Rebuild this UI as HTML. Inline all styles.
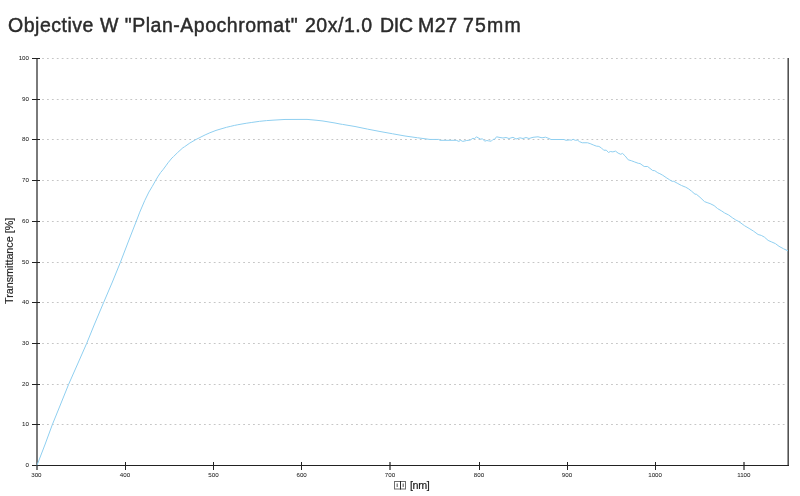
<!DOCTYPE html>
<html><head><meta charset="utf-8"><style>
html,body{margin:0;padding:0;background:#fff;width:800px;height:496px;overflow:hidden}
body{position:relative;font-family:"Liberation Sans",sans-serif}
.title,.ylab,.xlab,svg{will-change:transform}
.title{position:absolute;top:13.7px;font-size:19.5px;letter-spacing:0.52px;color:#2b2b2b;-webkit-text-stroke:0.45px #2b2b2b;white-space:nowrap;line-height:22px}
.tl{font-family:"Liberation Sans",sans-serif;font-size:6.2px;fill:#262626;stroke:#262626;stroke-width:0.04px}
.ylab{position:absolute;left:0;top:0;font-size:10.75px;color:#1e1e1e;-webkit-text-stroke:0.2px #1e1e1e;white-space:nowrap;transform-origin:0 0}
.xlab{position:absolute;top:479px;left:409.5px;font-size:10.75px;letter-spacing:-0.4px;color:#1e1e1e;-webkit-text-stroke:0.2px #1e1e1e;white-space:nowrap;line-height:12px}
.box{display:inline-block;width:4px;height:7px;border:1px solid #444;vertical-align:-1px;margin-right:0}
</style></head><body>
<div class="title" style="left:8.3px">Objective W "Plan-Apochromat"</div><div class="title" style="left:305.3px">20x/1.0</div><div class="title" style="left:380.3px;letter-spacing:-0.3px">DIC</div><div class="title" style="left:417.5px">M27</div><div class="title" style="left:462.5px;letter-spacing:1.2px">75mm</div>
<svg width="800" height="496" style="position:absolute;left:0;top:0">
<path d="M42.1 424.5h1.8M47.01 424.5h1.8M51.91 424.5h1.8M56.81 424.5h1.8M61.72 424.5h1.8M66.62 424.5h1.8M71.53 424.5h1.8M76.44 424.5h1.8M81.34 424.5h1.8M86.25 424.5h1.8M91.15 424.5h1.8M96.06 424.5h1.8M100.96 424.5h1.8M105.87 424.5h1.8M110.77 424.5h1.8M115.68 424.5h1.8M120.58 424.5h1.8M125.49 424.5h1.8M130.39 424.5h1.8M135.3 424.5h1.8M140.2 424.5h1.8M145.11 424.5h1.8M150.01 424.5h1.8M154.92 424.5h1.8M159.82 424.5h1.8M164.72 424.5h1.8M169.63 424.5h1.8M174.53 424.5h1.8M179.44 424.5h1.8M184.34 424.5h1.8M189.25 424.5h1.8M194.16 424.5h1.8M199.06 424.5h1.8M203.97 424.5h1.8M208.87 424.5h1.8M213.78 424.5h1.8M218.68 424.5h1.8M223.59 424.5h1.8M228.49 424.5h1.8M233.4 424.5h1.8M238.3 424.5h1.8M243.21 424.5h1.8M248.11 424.5h1.8M253.02 424.5h1.8M257.92 424.5h1.8M262.83 424.5h1.8M267.73 424.5h1.8M272.64 424.5h1.8M277.54 424.5h1.8M282.44 424.5h1.8M287.35 424.5h1.8M292.25 424.5h1.8M297.16 424.5h1.8M302.07 424.5h1.8M306.97 424.5h1.8M311.88 424.5h1.8M316.78 424.5h1.8M321.69 424.5h1.8M326.59 424.5h1.8M331.5 424.5h1.8M336.4 424.5h1.8M341.31 424.5h1.8M346.21 424.5h1.8M351.12 424.5h1.8M356.02 424.5h1.8M360.93 424.5h1.8M365.83 424.5h1.8M370.74 424.5h1.8M375.64 424.5h1.8M380.55 424.5h1.8M385.45 424.5h1.8M390.36 424.5h1.8M395.26 424.5h1.8M400.17 424.5h1.8M405.07 424.5h1.8M409.98 424.5h1.8M414.88 424.5h1.8M419.79 424.5h1.8M424.69 424.5h1.8M429.6 424.5h1.8M434.5 424.5h1.8M439.41 424.5h1.8M444.31 424.5h1.8M449.22 424.5h1.8M454.12 424.5h1.8M459.03 424.5h1.8M463.93 424.5h1.8M468.84 424.5h1.8M473.74 424.5h1.8M478.65 424.5h1.8M483.55 424.5h1.8M488.46 424.5h1.8M493.36 424.5h1.8M498.27 424.5h1.8M503.17 424.5h1.8M508.08 424.5h1.8M512.98 424.5h1.8M517.88 424.5h1.8M522.79 424.5h1.8M527.7 424.5h1.8M532.6 424.5h1.8M537.5 424.5h1.8M542.41 424.5h1.8M547.32 424.5h1.8M552.22 424.5h1.8M557.12 424.5h1.8M562.03 424.5h1.8M566.94 424.5h1.8M571.84 424.5h1.8M576.75 424.5h1.8M581.65 424.5h1.8M586.56 424.5h1.8M591.46 424.5h1.8M596.37 424.5h1.8M601.27 424.5h1.8M606.18 424.5h1.8M611.08 424.5h1.8M615.99 424.5h1.8M620.89 424.5h1.8M625.8 424.5h1.8M630.7 424.5h1.8M635.61 424.5h1.8M640.51 424.5h1.8M645.42 424.5h1.8M650.32 424.5h1.8M655.23 424.5h1.8M660.13 424.5h1.8M665.04 424.5h1.8M669.94 424.5h1.8M674.85 424.5h1.8M679.75 424.5h1.8M684.66 424.5h1.8M689.56 424.5h1.8M694.47 424.5h1.8M699.37 424.5h1.8M704.28 424.5h1.8M709.18 424.5h1.8M714.09 424.5h1.8M718.99 424.5h1.8M723.9 424.5h1.8M728.8 424.5h1.8M733.71 424.5h1.8M738.61 424.5h1.8M743.52 424.5h1.8M748.42 424.5h1.8M753.33 424.5h1.8M758.23 424.5h1.8M763.14 424.5h1.8M768.04 424.5h1.8M772.95 424.5h1.8M777.85 424.5h1.8M782.76 424.5h1.8M42.1 384.5h1.8M47.01 384.5h1.8M51.91 384.5h1.8M56.81 384.5h1.8M61.72 384.5h1.8M66.62 384.5h1.8M71.53 384.5h1.8M76.44 384.5h1.8M81.34 384.5h1.8M86.25 384.5h1.8M91.15 384.5h1.8M96.06 384.5h1.8M100.96 384.5h1.8M105.87 384.5h1.8M110.77 384.5h1.8M115.68 384.5h1.8M120.58 384.5h1.8M125.49 384.5h1.8M130.39 384.5h1.8M135.3 384.5h1.8M140.2 384.5h1.8M145.11 384.5h1.8M150.01 384.5h1.8M154.92 384.5h1.8M159.82 384.5h1.8M164.72 384.5h1.8M169.63 384.5h1.8M174.53 384.5h1.8M179.44 384.5h1.8M184.34 384.5h1.8M189.25 384.5h1.8M194.16 384.5h1.8M199.06 384.5h1.8M203.97 384.5h1.8M208.87 384.5h1.8M213.78 384.5h1.8M218.68 384.5h1.8M223.59 384.5h1.8M228.49 384.5h1.8M233.4 384.5h1.8M238.3 384.5h1.8M243.21 384.5h1.8M248.11 384.5h1.8M253.02 384.5h1.8M257.92 384.5h1.8M262.83 384.5h1.8M267.73 384.5h1.8M272.64 384.5h1.8M277.54 384.5h1.8M282.44 384.5h1.8M287.35 384.5h1.8M292.25 384.5h1.8M297.16 384.5h1.8M302.07 384.5h1.8M306.97 384.5h1.8M311.88 384.5h1.8M316.78 384.5h1.8M321.69 384.5h1.8M326.59 384.5h1.8M331.5 384.5h1.8M336.4 384.5h1.8M341.31 384.5h1.8M346.21 384.5h1.8M351.12 384.5h1.8M356.02 384.5h1.8M360.93 384.5h1.8M365.83 384.5h1.8M370.74 384.5h1.8M375.64 384.5h1.8M380.55 384.5h1.8M385.45 384.5h1.8M390.36 384.5h1.8M395.26 384.5h1.8M400.17 384.5h1.8M405.07 384.5h1.8M409.98 384.5h1.8M414.88 384.5h1.8M419.79 384.5h1.8M424.69 384.5h1.8M429.6 384.5h1.8M434.5 384.5h1.8M439.41 384.5h1.8M444.31 384.5h1.8M449.22 384.5h1.8M454.12 384.5h1.8M459.03 384.5h1.8M463.93 384.5h1.8M468.84 384.5h1.8M473.74 384.5h1.8M478.65 384.5h1.8M483.55 384.5h1.8M488.46 384.5h1.8M493.36 384.5h1.8M498.27 384.5h1.8M503.17 384.5h1.8M508.08 384.5h1.8M512.98 384.5h1.8M517.88 384.5h1.8M522.79 384.5h1.8M527.7 384.5h1.8M532.6 384.5h1.8M537.5 384.5h1.8M542.41 384.5h1.8M547.32 384.5h1.8M552.22 384.5h1.8M557.12 384.5h1.8M562.03 384.5h1.8M566.94 384.5h1.8M571.84 384.5h1.8M576.75 384.5h1.8M581.65 384.5h1.8M586.56 384.5h1.8M591.46 384.5h1.8M596.37 384.5h1.8M601.27 384.5h1.8M606.18 384.5h1.8M611.08 384.5h1.8M615.99 384.5h1.8M620.89 384.5h1.8M625.8 384.5h1.8M630.7 384.5h1.8M635.61 384.5h1.8M640.51 384.5h1.8M645.42 384.5h1.8M650.32 384.5h1.8M655.23 384.5h1.8M660.13 384.5h1.8M665.04 384.5h1.8M669.94 384.5h1.8M674.85 384.5h1.8M679.75 384.5h1.8M684.66 384.5h1.8M689.56 384.5h1.8M694.47 384.5h1.8M699.37 384.5h1.8M704.28 384.5h1.8M709.18 384.5h1.8M714.09 384.5h1.8M718.99 384.5h1.8M723.9 384.5h1.8M728.8 384.5h1.8M733.71 384.5h1.8M738.61 384.5h1.8M743.52 384.5h1.8M748.42 384.5h1.8M753.33 384.5h1.8M758.23 384.5h1.8M763.14 384.5h1.8M768.04 384.5h1.8M772.95 384.5h1.8M777.85 384.5h1.8M782.76 384.5h1.8M42.1 343.5h1.8M47.01 343.5h1.8M51.91 343.5h1.8M56.81 343.5h1.8M61.72 343.5h1.8M66.62 343.5h1.8M71.53 343.5h1.8M76.44 343.5h1.8M81.34 343.5h1.8M86.25 343.5h1.8M91.15 343.5h1.8M96.06 343.5h1.8M100.96 343.5h1.8M105.87 343.5h1.8M110.77 343.5h1.8M115.68 343.5h1.8M120.58 343.5h1.8M125.49 343.5h1.8M130.39 343.5h1.8M135.3 343.5h1.8M140.2 343.5h1.8M145.11 343.5h1.8M150.01 343.5h1.8M154.92 343.5h1.8M159.82 343.5h1.8M164.72 343.5h1.8M169.63 343.5h1.8M174.53 343.5h1.8M179.44 343.5h1.8M184.34 343.5h1.8M189.25 343.5h1.8M194.16 343.5h1.8M199.06 343.5h1.8M203.97 343.5h1.8M208.87 343.5h1.8M213.78 343.5h1.8M218.68 343.5h1.8M223.59 343.5h1.8M228.49 343.5h1.8M233.4 343.5h1.8M238.3 343.5h1.8M243.21 343.5h1.8M248.11 343.5h1.8M253.02 343.5h1.8M257.92 343.5h1.8M262.83 343.5h1.8M267.73 343.5h1.8M272.64 343.5h1.8M277.54 343.5h1.8M282.44 343.5h1.8M287.35 343.5h1.8M292.25 343.5h1.8M297.16 343.5h1.8M302.07 343.5h1.8M306.97 343.5h1.8M311.88 343.5h1.8M316.78 343.5h1.8M321.69 343.5h1.8M326.59 343.5h1.8M331.5 343.5h1.8M336.4 343.5h1.8M341.31 343.5h1.8M346.21 343.5h1.8M351.12 343.5h1.8M356.02 343.5h1.8M360.93 343.5h1.8M365.83 343.5h1.8M370.74 343.5h1.8M375.64 343.5h1.8M380.55 343.5h1.8M385.45 343.5h1.8M390.36 343.5h1.8M395.26 343.5h1.8M400.17 343.5h1.8M405.07 343.5h1.8M409.98 343.5h1.8M414.88 343.5h1.8M419.79 343.5h1.8M424.69 343.5h1.8M429.6 343.5h1.8M434.5 343.5h1.8M439.41 343.5h1.8M444.31 343.5h1.8M449.22 343.5h1.8M454.12 343.5h1.8M459.03 343.5h1.8M463.93 343.5h1.8M468.84 343.5h1.8M473.74 343.5h1.8M478.65 343.5h1.8M483.55 343.5h1.8M488.46 343.5h1.8M493.36 343.5h1.8M498.27 343.5h1.8M503.17 343.5h1.8M508.08 343.5h1.8M512.98 343.5h1.8M517.88 343.5h1.8M522.79 343.5h1.8M527.7 343.5h1.8M532.6 343.5h1.8M537.5 343.5h1.8M542.41 343.5h1.8M547.32 343.5h1.8M552.22 343.5h1.8M557.12 343.5h1.8M562.03 343.5h1.8M566.94 343.5h1.8M571.84 343.5h1.8M576.75 343.5h1.8M581.65 343.5h1.8M586.56 343.5h1.8M591.46 343.5h1.8M596.37 343.5h1.8M601.27 343.5h1.8M606.18 343.5h1.8M611.08 343.5h1.8M615.99 343.5h1.8M620.89 343.5h1.8M625.8 343.5h1.8M630.7 343.5h1.8M635.61 343.5h1.8M640.51 343.5h1.8M645.42 343.5h1.8M650.32 343.5h1.8M655.23 343.5h1.8M660.13 343.5h1.8M665.04 343.5h1.8M669.94 343.5h1.8M674.85 343.5h1.8M679.75 343.5h1.8M684.66 343.5h1.8M689.56 343.5h1.8M694.47 343.5h1.8M699.37 343.5h1.8M704.28 343.5h1.8M709.18 343.5h1.8M714.09 343.5h1.8M718.99 343.5h1.8M723.9 343.5h1.8M728.8 343.5h1.8M733.71 343.5h1.8M738.61 343.5h1.8M743.52 343.5h1.8M748.42 343.5h1.8M753.33 343.5h1.8M758.23 343.5h1.8M763.14 343.5h1.8M768.04 343.5h1.8M772.95 343.5h1.8M777.85 343.5h1.8M782.76 343.5h1.8M42.1 302.5h1.8M47.01 302.5h1.8M51.91 302.5h1.8M56.81 302.5h1.8M61.72 302.5h1.8M66.62 302.5h1.8M71.53 302.5h1.8M76.44 302.5h1.8M81.34 302.5h1.8M86.25 302.5h1.8M91.15 302.5h1.8M96.06 302.5h1.8M100.96 302.5h1.8M105.87 302.5h1.8M110.77 302.5h1.8M115.68 302.5h1.8M120.58 302.5h1.8M125.49 302.5h1.8M130.39 302.5h1.8M135.3 302.5h1.8M140.2 302.5h1.8M145.11 302.5h1.8M150.01 302.5h1.8M154.92 302.5h1.8M159.82 302.5h1.8M164.72 302.5h1.8M169.63 302.5h1.8M174.53 302.5h1.8M179.44 302.5h1.8M184.34 302.5h1.8M189.25 302.5h1.8M194.16 302.5h1.8M199.06 302.5h1.8M203.97 302.5h1.8M208.87 302.5h1.8M213.78 302.5h1.8M218.68 302.5h1.8M223.59 302.5h1.8M228.49 302.5h1.8M233.4 302.5h1.8M238.3 302.5h1.8M243.21 302.5h1.8M248.11 302.5h1.8M253.02 302.5h1.8M257.92 302.5h1.8M262.83 302.5h1.8M267.73 302.5h1.8M272.64 302.5h1.8M277.54 302.5h1.8M282.44 302.5h1.8M287.35 302.5h1.8M292.25 302.5h1.8M297.16 302.5h1.8M302.07 302.5h1.8M306.97 302.5h1.8M311.88 302.5h1.8M316.78 302.5h1.8M321.69 302.5h1.8M326.59 302.5h1.8M331.5 302.5h1.8M336.4 302.5h1.8M341.31 302.5h1.8M346.21 302.5h1.8M351.12 302.5h1.8M356.02 302.5h1.8M360.93 302.5h1.8M365.83 302.5h1.8M370.74 302.5h1.8M375.64 302.5h1.8M380.55 302.5h1.8M385.45 302.5h1.8M390.36 302.5h1.8M395.26 302.5h1.8M400.17 302.5h1.8M405.07 302.5h1.8M409.98 302.5h1.8M414.88 302.5h1.8M419.79 302.5h1.8M424.69 302.5h1.8M429.6 302.5h1.8M434.5 302.5h1.8M439.41 302.5h1.8M444.31 302.5h1.8M449.22 302.5h1.8M454.12 302.5h1.8M459.03 302.5h1.8M463.93 302.5h1.8M468.84 302.5h1.8M473.74 302.5h1.8M478.65 302.5h1.8M483.55 302.5h1.8M488.46 302.5h1.8M493.36 302.5h1.8M498.27 302.5h1.8M503.17 302.5h1.8M508.08 302.5h1.8M512.98 302.5h1.8M517.88 302.5h1.8M522.79 302.5h1.8M527.7 302.5h1.8M532.6 302.5h1.8M537.5 302.5h1.8M542.41 302.5h1.8M547.32 302.5h1.8M552.22 302.5h1.8M557.12 302.5h1.8M562.03 302.5h1.8M566.94 302.5h1.8M571.84 302.5h1.8M576.75 302.5h1.8M581.65 302.5h1.8M586.56 302.5h1.8M591.46 302.5h1.8M596.37 302.5h1.8M601.27 302.5h1.8M606.18 302.5h1.8M611.08 302.5h1.8M615.99 302.5h1.8M620.89 302.5h1.8M625.8 302.5h1.8M630.7 302.5h1.8M635.61 302.5h1.8M640.51 302.5h1.8M645.42 302.5h1.8M650.32 302.5h1.8M655.23 302.5h1.8M660.13 302.5h1.8M665.04 302.5h1.8M669.94 302.5h1.8M674.85 302.5h1.8M679.75 302.5h1.8M684.66 302.5h1.8M689.56 302.5h1.8M694.47 302.5h1.8M699.37 302.5h1.8M704.28 302.5h1.8M709.18 302.5h1.8M714.09 302.5h1.8M718.99 302.5h1.8M723.9 302.5h1.8M728.8 302.5h1.8M733.71 302.5h1.8M738.61 302.5h1.8M743.52 302.5h1.8M748.42 302.5h1.8M753.33 302.5h1.8M758.23 302.5h1.8M763.14 302.5h1.8M768.04 302.5h1.8M772.95 302.5h1.8M777.85 302.5h1.8M782.76 302.5h1.8M42.1 262.5h1.8M47.01 262.5h1.8M51.91 262.5h1.8M56.81 262.5h1.8M61.72 262.5h1.8M66.62 262.5h1.8M71.53 262.5h1.8M76.44 262.5h1.8M81.34 262.5h1.8M86.25 262.5h1.8M91.15 262.5h1.8M96.06 262.5h1.8M100.96 262.5h1.8M105.87 262.5h1.8M110.77 262.5h1.8M115.68 262.5h1.8M120.58 262.5h1.8M125.49 262.5h1.8M130.39 262.5h1.8M135.3 262.5h1.8M140.2 262.5h1.8M145.11 262.5h1.8M150.01 262.5h1.8M154.92 262.5h1.8M159.82 262.5h1.8M164.72 262.5h1.8M169.63 262.5h1.8M174.53 262.5h1.8M179.44 262.5h1.8M184.34 262.5h1.8M189.25 262.5h1.8M194.16 262.5h1.8M199.06 262.5h1.8M203.97 262.5h1.8M208.87 262.5h1.8M213.78 262.5h1.8M218.68 262.5h1.8M223.59 262.5h1.8M228.49 262.5h1.8M233.4 262.5h1.8M238.3 262.5h1.8M243.21 262.5h1.8M248.11 262.5h1.8M253.02 262.5h1.8M257.92 262.5h1.8M262.83 262.5h1.8M267.73 262.5h1.8M272.64 262.5h1.8M277.54 262.5h1.8M282.44 262.5h1.8M287.35 262.5h1.8M292.25 262.5h1.8M297.16 262.5h1.8M302.07 262.5h1.8M306.97 262.5h1.8M311.88 262.5h1.8M316.78 262.5h1.8M321.69 262.5h1.8M326.59 262.5h1.8M331.5 262.5h1.8M336.4 262.5h1.8M341.31 262.5h1.8M346.21 262.5h1.8M351.12 262.5h1.8M356.02 262.5h1.8M360.93 262.5h1.8M365.83 262.5h1.8M370.74 262.5h1.8M375.64 262.5h1.8M380.55 262.5h1.8M385.45 262.5h1.8M390.36 262.5h1.8M395.26 262.5h1.8M400.17 262.5h1.8M405.07 262.5h1.8M409.98 262.5h1.8M414.88 262.5h1.8M419.79 262.5h1.8M424.69 262.5h1.8M429.6 262.5h1.8M434.5 262.5h1.8M439.41 262.5h1.8M444.31 262.5h1.8M449.22 262.5h1.8M454.12 262.5h1.8M459.03 262.5h1.8M463.93 262.5h1.8M468.84 262.5h1.8M473.74 262.5h1.8M478.65 262.5h1.8M483.55 262.5h1.8M488.46 262.5h1.8M493.36 262.5h1.8M498.27 262.5h1.8M503.17 262.5h1.8M508.08 262.5h1.8M512.98 262.5h1.8M517.88 262.5h1.8M522.79 262.5h1.8M527.7 262.5h1.8M532.6 262.5h1.8M537.5 262.5h1.8M542.41 262.5h1.8M547.32 262.5h1.8M552.22 262.5h1.8M557.12 262.5h1.8M562.03 262.5h1.8M566.94 262.5h1.8M571.84 262.5h1.8M576.75 262.5h1.8M581.65 262.5h1.8M586.56 262.5h1.8M591.46 262.5h1.8M596.37 262.5h1.8M601.27 262.5h1.8M606.18 262.5h1.8M611.08 262.5h1.8M615.99 262.5h1.8M620.89 262.5h1.8M625.8 262.5h1.8M630.7 262.5h1.8M635.61 262.5h1.8M640.51 262.5h1.8M645.42 262.5h1.8M650.32 262.5h1.8M655.23 262.5h1.8M660.13 262.5h1.8M665.04 262.5h1.8M669.94 262.5h1.8M674.85 262.5h1.8M679.75 262.5h1.8M684.66 262.5h1.8M689.56 262.5h1.8M694.47 262.5h1.8M699.37 262.5h1.8M704.28 262.5h1.8M709.18 262.5h1.8M714.09 262.5h1.8M718.99 262.5h1.8M723.9 262.5h1.8M728.8 262.5h1.8M733.71 262.5h1.8M738.61 262.5h1.8M743.52 262.5h1.8M748.42 262.5h1.8M753.33 262.5h1.8M758.23 262.5h1.8M763.14 262.5h1.8M768.04 262.5h1.8M772.95 262.5h1.8M777.85 262.5h1.8M782.76 262.5h1.8M42.1 221.5h1.8M47.01 221.5h1.8M51.91 221.5h1.8M56.81 221.5h1.8M61.72 221.5h1.8M66.62 221.5h1.8M71.53 221.5h1.8M76.44 221.5h1.8M81.34 221.5h1.8M86.25 221.5h1.8M91.15 221.5h1.8M96.06 221.5h1.8M100.96 221.5h1.8M105.87 221.5h1.8M110.77 221.5h1.8M115.68 221.5h1.8M120.58 221.5h1.8M125.49 221.5h1.8M130.39 221.5h1.8M135.3 221.5h1.8M140.2 221.5h1.8M145.11 221.5h1.8M150.01 221.5h1.8M154.92 221.5h1.8M159.82 221.5h1.8M164.72 221.5h1.8M169.63 221.5h1.8M174.53 221.5h1.8M179.44 221.5h1.8M184.34 221.5h1.8M189.25 221.5h1.8M194.16 221.5h1.8M199.06 221.5h1.8M203.97 221.5h1.8M208.87 221.5h1.8M213.78 221.5h1.8M218.68 221.5h1.8M223.59 221.5h1.8M228.49 221.5h1.8M233.4 221.5h1.8M238.3 221.5h1.8M243.21 221.5h1.8M248.11 221.5h1.8M253.02 221.5h1.8M257.92 221.5h1.8M262.83 221.5h1.8M267.73 221.5h1.8M272.64 221.5h1.8M277.54 221.5h1.8M282.44 221.5h1.8M287.35 221.5h1.8M292.25 221.5h1.8M297.16 221.5h1.8M302.07 221.5h1.8M306.97 221.5h1.8M311.88 221.5h1.8M316.78 221.5h1.8M321.69 221.5h1.8M326.59 221.5h1.8M331.5 221.5h1.8M336.4 221.5h1.8M341.31 221.5h1.8M346.21 221.5h1.8M351.12 221.5h1.8M356.02 221.5h1.8M360.93 221.5h1.8M365.83 221.5h1.8M370.74 221.5h1.8M375.64 221.5h1.8M380.55 221.5h1.8M385.45 221.5h1.8M390.36 221.5h1.8M395.26 221.5h1.8M400.17 221.5h1.8M405.07 221.5h1.8M409.98 221.5h1.8M414.88 221.5h1.8M419.79 221.5h1.8M424.69 221.5h1.8M429.6 221.5h1.8M434.5 221.5h1.8M439.41 221.5h1.8M444.31 221.5h1.8M449.22 221.5h1.8M454.12 221.5h1.8M459.03 221.5h1.8M463.93 221.5h1.8M468.84 221.5h1.8M473.74 221.5h1.8M478.65 221.5h1.8M483.55 221.5h1.8M488.46 221.5h1.8M493.36 221.5h1.8M498.27 221.5h1.8M503.17 221.5h1.8M508.08 221.5h1.8M512.98 221.5h1.8M517.88 221.5h1.8M522.79 221.5h1.8M527.7 221.5h1.8M532.6 221.5h1.8M537.5 221.5h1.8M542.41 221.5h1.8M547.32 221.5h1.8M552.22 221.5h1.8M557.12 221.5h1.8M562.03 221.5h1.8M566.94 221.5h1.8M571.84 221.5h1.8M576.75 221.5h1.8M581.65 221.5h1.8M586.56 221.5h1.8M591.46 221.5h1.8M596.37 221.5h1.8M601.27 221.5h1.8M606.18 221.5h1.8M611.08 221.5h1.8M615.99 221.5h1.8M620.89 221.5h1.8M625.8 221.5h1.8M630.7 221.5h1.8M635.61 221.5h1.8M640.51 221.5h1.8M645.42 221.5h1.8M650.32 221.5h1.8M655.23 221.5h1.8M660.13 221.5h1.8M665.04 221.5h1.8M669.94 221.5h1.8M674.85 221.5h1.8M679.75 221.5h1.8M684.66 221.5h1.8M689.56 221.5h1.8M694.47 221.5h1.8M699.37 221.5h1.8M704.28 221.5h1.8M709.18 221.5h1.8M714.09 221.5h1.8M718.99 221.5h1.8M723.9 221.5h1.8M728.8 221.5h1.8M733.71 221.5h1.8M738.61 221.5h1.8M743.52 221.5h1.8M748.42 221.5h1.8M753.33 221.5h1.8M758.23 221.5h1.8M763.14 221.5h1.8M768.04 221.5h1.8M772.95 221.5h1.8M777.85 221.5h1.8M782.76 221.5h1.8M42.1 180.5h1.8M47.01 180.5h1.8M51.91 180.5h1.8M56.81 180.5h1.8M61.72 180.5h1.8M66.62 180.5h1.8M71.53 180.5h1.8M76.44 180.5h1.8M81.34 180.5h1.8M86.25 180.5h1.8M91.15 180.5h1.8M96.06 180.5h1.8M100.96 180.5h1.8M105.87 180.5h1.8M110.77 180.5h1.8M115.68 180.5h1.8M120.58 180.5h1.8M125.49 180.5h1.8M130.39 180.5h1.8M135.3 180.5h1.8M140.2 180.5h1.8M145.11 180.5h1.8M150.01 180.5h1.8M154.92 180.5h1.8M159.82 180.5h1.8M164.72 180.5h1.8M169.63 180.5h1.8M174.53 180.5h1.8M179.44 180.5h1.8M184.34 180.5h1.8M189.25 180.5h1.8M194.16 180.5h1.8M199.06 180.5h1.8M203.97 180.5h1.8M208.87 180.5h1.8M213.78 180.5h1.8M218.68 180.5h1.8M223.59 180.5h1.8M228.49 180.5h1.8M233.4 180.5h1.8M238.3 180.5h1.8M243.21 180.5h1.8M248.11 180.5h1.8M253.02 180.5h1.8M257.92 180.5h1.8M262.83 180.5h1.8M267.73 180.5h1.8M272.64 180.5h1.8M277.54 180.5h1.8M282.44 180.5h1.8M287.35 180.5h1.8M292.25 180.5h1.8M297.16 180.5h1.8M302.07 180.5h1.8M306.97 180.5h1.8M311.88 180.5h1.8M316.78 180.5h1.8M321.69 180.5h1.8M326.59 180.5h1.8M331.5 180.5h1.8M336.4 180.5h1.8M341.31 180.5h1.8M346.21 180.5h1.8M351.12 180.5h1.8M356.02 180.5h1.8M360.93 180.5h1.8M365.83 180.5h1.8M370.74 180.5h1.8M375.64 180.5h1.8M380.55 180.5h1.8M385.45 180.5h1.8M390.36 180.5h1.8M395.26 180.5h1.8M400.17 180.5h1.8M405.07 180.5h1.8M409.98 180.5h1.8M414.88 180.5h1.8M419.79 180.5h1.8M424.69 180.5h1.8M429.6 180.5h1.8M434.5 180.5h1.8M439.41 180.5h1.8M444.31 180.5h1.8M449.22 180.5h1.8M454.12 180.5h1.8M459.03 180.5h1.8M463.93 180.5h1.8M468.84 180.5h1.8M473.74 180.5h1.8M478.65 180.5h1.8M483.55 180.5h1.8M488.46 180.5h1.8M493.36 180.5h1.8M498.27 180.5h1.8M503.17 180.5h1.8M508.08 180.5h1.8M512.98 180.5h1.8M517.88 180.5h1.8M522.79 180.5h1.8M527.7 180.5h1.8M532.6 180.5h1.8M537.5 180.5h1.8M542.41 180.5h1.8M547.32 180.5h1.8M552.22 180.5h1.8M557.12 180.5h1.8M562.03 180.5h1.8M566.94 180.5h1.8M571.84 180.5h1.8M576.75 180.5h1.8M581.65 180.5h1.8M586.56 180.5h1.8M591.46 180.5h1.8M596.37 180.5h1.8M601.27 180.5h1.8M606.18 180.5h1.8M611.08 180.5h1.8M615.99 180.5h1.8M620.89 180.5h1.8M625.8 180.5h1.8M630.7 180.5h1.8M635.61 180.5h1.8M640.51 180.5h1.8M645.42 180.5h1.8M650.32 180.5h1.8M655.23 180.5h1.8M660.13 180.5h1.8M665.04 180.5h1.8M669.94 180.5h1.8M674.85 180.5h1.8M679.75 180.5h1.8M684.66 180.5h1.8M689.56 180.5h1.8M694.47 180.5h1.8M699.37 180.5h1.8M704.28 180.5h1.8M709.18 180.5h1.8M714.09 180.5h1.8M718.99 180.5h1.8M723.9 180.5h1.8M728.8 180.5h1.8M733.71 180.5h1.8M738.61 180.5h1.8M743.52 180.5h1.8M748.42 180.5h1.8M753.33 180.5h1.8M758.23 180.5h1.8M763.14 180.5h1.8M768.04 180.5h1.8M772.95 180.5h1.8M777.85 180.5h1.8M782.76 180.5h1.8M42.1 139.5h1.8M47.01 139.5h1.8M51.91 139.5h1.8M56.81 139.5h1.8M61.72 139.5h1.8M66.62 139.5h1.8M71.53 139.5h1.8M76.44 139.5h1.8M81.34 139.5h1.8M86.25 139.5h1.8M91.15 139.5h1.8M96.06 139.5h1.8M100.96 139.5h1.8M105.87 139.5h1.8M110.77 139.5h1.8M115.68 139.5h1.8M120.58 139.5h1.8M125.49 139.5h1.8M130.39 139.5h1.8M135.3 139.5h1.8M140.2 139.5h1.8M145.11 139.5h1.8M150.01 139.5h1.8M154.92 139.5h1.8M159.82 139.5h1.8M164.72 139.5h1.8M169.63 139.5h1.8M174.53 139.5h1.8M179.44 139.5h1.8M184.34 139.5h1.8M189.25 139.5h1.8M194.16 139.5h1.8M199.06 139.5h1.8M203.97 139.5h1.8M208.87 139.5h1.8M213.78 139.5h1.8M218.68 139.5h1.8M223.59 139.5h1.8M228.49 139.5h1.8M233.4 139.5h1.8M238.3 139.5h1.8M243.21 139.5h1.8M248.11 139.5h1.8M253.02 139.5h1.8M257.92 139.5h1.8M262.83 139.5h1.8M267.73 139.5h1.8M272.64 139.5h1.8M277.54 139.5h1.8M282.44 139.5h1.8M287.35 139.5h1.8M292.25 139.5h1.8M297.16 139.5h1.8M302.07 139.5h1.8M306.97 139.5h1.8M311.88 139.5h1.8M316.78 139.5h1.8M321.69 139.5h1.8M326.59 139.5h1.8M331.5 139.5h1.8M336.4 139.5h1.8M341.31 139.5h1.8M346.21 139.5h1.8M351.12 139.5h1.8M356.02 139.5h1.8M360.93 139.5h1.8M365.83 139.5h1.8M370.74 139.5h1.8M375.64 139.5h1.8M380.55 139.5h1.8M385.45 139.5h1.8M390.36 139.5h1.8M395.26 139.5h1.8M400.17 139.5h1.8M405.07 139.5h1.8M409.98 139.5h1.8M414.88 139.5h1.8M419.79 139.5h1.8M424.69 139.5h1.8M429.6 139.5h1.8M434.5 139.5h1.8M439.41 139.5h1.8M444.31 139.5h1.8M449.22 139.5h1.8M454.12 139.5h1.8M459.03 139.5h1.8M463.93 139.5h1.8M468.84 139.5h1.8M473.74 139.5h1.8M478.65 139.5h1.8M483.55 139.5h1.8M488.46 139.5h1.8M493.36 139.5h1.8M498.27 139.5h1.8M503.17 139.5h1.8M508.08 139.5h1.8M512.98 139.5h1.8M517.88 139.5h1.8M522.79 139.5h1.8M527.7 139.5h1.8M532.6 139.5h1.8M537.5 139.5h1.8M542.41 139.5h1.8M547.32 139.5h1.8M552.22 139.5h1.8M557.12 139.5h1.8M562.03 139.5h1.8M566.94 139.5h1.8M571.84 139.5h1.8M576.75 139.5h1.8M581.65 139.5h1.8M586.56 139.5h1.8M591.46 139.5h1.8M596.37 139.5h1.8M601.27 139.5h1.8M606.18 139.5h1.8M611.08 139.5h1.8M615.99 139.5h1.8M620.89 139.5h1.8M625.8 139.5h1.8M630.7 139.5h1.8M635.61 139.5h1.8M640.51 139.5h1.8M645.42 139.5h1.8M650.32 139.5h1.8M655.23 139.5h1.8M660.13 139.5h1.8M665.04 139.5h1.8M669.94 139.5h1.8M674.85 139.5h1.8M679.75 139.5h1.8M684.66 139.5h1.8M689.56 139.5h1.8M694.47 139.5h1.8M699.37 139.5h1.8M704.28 139.5h1.8M709.18 139.5h1.8M714.09 139.5h1.8M718.99 139.5h1.8M723.9 139.5h1.8M728.8 139.5h1.8M733.71 139.5h1.8M738.61 139.5h1.8M743.52 139.5h1.8M748.42 139.5h1.8M753.33 139.5h1.8M758.23 139.5h1.8M763.14 139.5h1.8M768.04 139.5h1.8M772.95 139.5h1.8M777.85 139.5h1.8M782.76 139.5h1.8M42.1 99.5h1.8M47.01 99.5h1.8M51.91 99.5h1.8M56.81 99.5h1.8M61.72 99.5h1.8M66.62 99.5h1.8M71.53 99.5h1.8M76.44 99.5h1.8M81.34 99.5h1.8M86.25 99.5h1.8M91.15 99.5h1.8M96.06 99.5h1.8M100.96 99.5h1.8M105.87 99.5h1.8M110.77 99.5h1.8M115.68 99.5h1.8M120.58 99.5h1.8M125.49 99.5h1.8M130.39 99.5h1.8M135.3 99.5h1.8M140.2 99.5h1.8M145.11 99.5h1.8M150.01 99.5h1.8M154.92 99.5h1.8M159.82 99.5h1.8M164.72 99.5h1.8M169.63 99.5h1.8M174.53 99.5h1.8M179.44 99.5h1.8M184.34 99.5h1.8M189.25 99.5h1.8M194.16 99.5h1.8M199.06 99.5h1.8M203.97 99.5h1.8M208.87 99.5h1.8M213.78 99.5h1.8M218.68 99.5h1.8M223.59 99.5h1.8M228.49 99.5h1.8M233.4 99.5h1.8M238.3 99.5h1.8M243.21 99.5h1.8M248.11 99.5h1.8M253.02 99.5h1.8M257.92 99.5h1.8M262.83 99.5h1.8M267.73 99.5h1.8M272.64 99.5h1.8M277.54 99.5h1.8M282.44 99.5h1.8M287.35 99.5h1.8M292.25 99.5h1.8M297.16 99.5h1.8M302.07 99.5h1.8M306.97 99.5h1.8M311.88 99.5h1.8M316.78 99.5h1.8M321.69 99.5h1.8M326.59 99.5h1.8M331.5 99.5h1.8M336.4 99.5h1.8M341.31 99.5h1.8M346.21 99.5h1.8M351.12 99.5h1.8M356.02 99.5h1.8M360.93 99.5h1.8M365.83 99.5h1.8M370.74 99.5h1.8M375.64 99.5h1.8M380.55 99.5h1.8M385.45 99.5h1.8M390.36 99.5h1.8M395.26 99.5h1.8M400.17 99.5h1.8M405.07 99.5h1.8M409.98 99.5h1.8M414.88 99.5h1.8M419.79 99.5h1.8M424.69 99.5h1.8M429.6 99.5h1.8M434.5 99.5h1.8M439.41 99.5h1.8M444.31 99.5h1.8M449.22 99.5h1.8M454.12 99.5h1.8M459.03 99.5h1.8M463.93 99.5h1.8M468.84 99.5h1.8M473.74 99.5h1.8M478.65 99.5h1.8M483.55 99.5h1.8M488.46 99.5h1.8M493.36 99.5h1.8M498.27 99.5h1.8M503.17 99.5h1.8M508.08 99.5h1.8M512.98 99.5h1.8M517.88 99.5h1.8M522.79 99.5h1.8M527.7 99.5h1.8M532.6 99.5h1.8M537.5 99.5h1.8M542.41 99.5h1.8M547.32 99.5h1.8M552.22 99.5h1.8M557.12 99.5h1.8M562.03 99.5h1.8M566.94 99.5h1.8M571.84 99.5h1.8M576.75 99.5h1.8M581.65 99.5h1.8M586.56 99.5h1.8M591.46 99.5h1.8M596.37 99.5h1.8M601.27 99.5h1.8M606.18 99.5h1.8M611.08 99.5h1.8M615.99 99.5h1.8M620.89 99.5h1.8M625.8 99.5h1.8M630.7 99.5h1.8M635.61 99.5h1.8M640.51 99.5h1.8M645.42 99.5h1.8M650.32 99.5h1.8M655.23 99.5h1.8M660.13 99.5h1.8M665.04 99.5h1.8M669.94 99.5h1.8M674.85 99.5h1.8M679.75 99.5h1.8M684.66 99.5h1.8M689.56 99.5h1.8M694.47 99.5h1.8M699.37 99.5h1.8M704.28 99.5h1.8M709.18 99.5h1.8M714.09 99.5h1.8M718.99 99.5h1.8M723.9 99.5h1.8M728.8 99.5h1.8M733.71 99.5h1.8M738.61 99.5h1.8M743.52 99.5h1.8M748.42 99.5h1.8M753.33 99.5h1.8M758.23 99.5h1.8M763.14 99.5h1.8M768.04 99.5h1.8M772.95 99.5h1.8M777.85 99.5h1.8M782.76 99.5h1.8M42.1 58.5h1.8M47.01 58.5h1.8M51.91 58.5h1.8M56.81 58.5h1.8M61.72 58.5h1.8M66.62 58.5h1.8M71.53 58.5h1.8M76.44 58.5h1.8M81.34 58.5h1.8M86.25 58.5h1.8M91.15 58.5h1.8M96.06 58.5h1.8M100.96 58.5h1.8M105.87 58.5h1.8M110.77 58.5h1.8M115.68 58.5h1.8M120.58 58.5h1.8M125.49 58.5h1.8M130.39 58.5h1.8M135.3 58.5h1.8M140.2 58.5h1.8M145.11 58.5h1.8M150.01 58.5h1.8M154.92 58.5h1.8M159.82 58.5h1.8M164.72 58.5h1.8M169.63 58.5h1.8M174.53 58.5h1.8M179.44 58.5h1.8M184.34 58.5h1.8M189.25 58.5h1.8M194.16 58.5h1.8M199.06 58.5h1.8M203.97 58.5h1.8M208.87 58.5h1.8M213.78 58.5h1.8M218.68 58.5h1.8M223.59 58.5h1.8M228.49 58.5h1.8M233.4 58.5h1.8M238.3 58.5h1.8M243.21 58.5h1.8M248.11 58.5h1.8M253.02 58.5h1.8M257.92 58.5h1.8M262.83 58.5h1.8M267.73 58.5h1.8M272.64 58.5h1.8M277.54 58.5h1.8M282.44 58.5h1.8M287.35 58.5h1.8M292.25 58.5h1.8M297.16 58.5h1.8M302.07 58.5h1.8M306.97 58.5h1.8M311.88 58.5h1.8M316.78 58.5h1.8M321.69 58.5h1.8M326.59 58.5h1.8M331.5 58.5h1.8M336.4 58.5h1.8M341.31 58.5h1.8M346.21 58.5h1.8M351.12 58.5h1.8M356.02 58.5h1.8M360.93 58.5h1.8M365.83 58.5h1.8M370.74 58.5h1.8M375.64 58.5h1.8M380.55 58.5h1.8M385.45 58.5h1.8M390.36 58.5h1.8M395.26 58.5h1.8M400.17 58.5h1.8M405.07 58.5h1.8M409.98 58.5h1.8M414.88 58.5h1.8M419.79 58.5h1.8M424.69 58.5h1.8M429.6 58.5h1.8M434.5 58.5h1.8M439.41 58.5h1.8M444.31 58.5h1.8M449.22 58.5h1.8M454.12 58.5h1.8M459.03 58.5h1.8M463.93 58.5h1.8M468.84 58.5h1.8M473.74 58.5h1.8M478.65 58.5h1.8M483.55 58.5h1.8M488.46 58.5h1.8M493.36 58.5h1.8M498.27 58.5h1.8M503.17 58.5h1.8M508.08 58.5h1.8M512.98 58.5h1.8M517.88 58.5h1.8M522.79 58.5h1.8M527.7 58.5h1.8M532.6 58.5h1.8M537.5 58.5h1.8M542.41 58.5h1.8M547.32 58.5h1.8M552.22 58.5h1.8M557.12 58.5h1.8M562.03 58.5h1.8M566.94 58.5h1.8M571.84 58.5h1.8M576.75 58.5h1.8M581.65 58.5h1.8M586.56 58.5h1.8M591.46 58.5h1.8M596.37 58.5h1.8M601.27 58.5h1.8M606.18 58.5h1.8M611.08 58.5h1.8M615.99 58.5h1.8M620.89 58.5h1.8M625.8 58.5h1.8M630.7 58.5h1.8M635.61 58.5h1.8M640.51 58.5h1.8M645.42 58.5h1.8M650.32 58.5h1.8M655.23 58.5h1.8M660.13 58.5h1.8M665.04 58.5h1.8M669.94 58.5h1.8M674.85 58.5h1.8M679.75 58.5h1.8M684.66 58.5h1.8M689.56 58.5h1.8M694.47 58.5h1.8M699.37 58.5h1.8M704.28 58.5h1.8M709.18 58.5h1.8M714.09 58.5h1.8M718.99 58.5h1.8M723.9 58.5h1.8M728.8 58.5h1.8M733.71 58.5h1.8M738.61 58.5h1.8M743.52 58.5h1.8M748.42 58.5h1.8M753.33 58.5h1.8M758.23 58.5h1.8M763.14 58.5h1.8M768.04 58.5h1.8M772.95 58.5h1.8M777.85 58.5h1.8M782.76 58.5h1.8" stroke="#c6c6c6" stroke-width="1" fill="none"/>
<rect x="36" y="58" width="2" height="408" fill="#7a7a7a"/>
<rect x="787" y="58" width="1" height="408" fill="#9a9a9a"/><rect x="788" y="58" width="1" height="408" fill="#525252"/>
<rect x="32" y="465" width="8" height="1" fill="#222"/>
<text x="29" y="466.6" text-anchor="end" class="tl">0</text>
<rect x="32" y="424" width="8" height="1" fill="#222"/>
<text x="29" y="425.6" text-anchor="end" class="tl">10</text>
<rect x="32" y="384" width="8" height="1" fill="#222"/>
<text x="29" y="385.6" text-anchor="end" class="tl">20</text>
<rect x="32" y="343" width="8" height="1" fill="#222"/>
<text x="29" y="344.6" text-anchor="end" class="tl">30</text>
<rect x="32" y="302" width="8" height="1" fill="#222"/>
<text x="29" y="303.6" text-anchor="end" class="tl">40</text>
<rect x="32" y="262" width="8" height="1" fill="#222"/>
<text x="29" y="263.6" text-anchor="end" class="tl">50</text>
<rect x="32" y="221" width="8" height="1" fill="#222"/>
<text x="29" y="222.6" text-anchor="end" class="tl">60</text>
<rect x="32" y="180" width="8" height="1" fill="#222"/>
<text x="29" y="181.6" text-anchor="end" class="tl">70</text>
<rect x="32" y="139" width="8" height="1" fill="#222"/>
<text x="29" y="140.6" text-anchor="end" class="tl">80</text>
<rect x="32" y="99" width="8" height="1" fill="#222"/>
<text x="29" y="100.6" text-anchor="end" class="tl">90</text>
<rect x="32" y="58" width="8" height="1" fill="#222"/>
<text x="29" y="59.6" text-anchor="end" class="tl">100</text>
<rect x="36" y="466" width="2" height="4" fill="#7a7a7a"/>
<text x="36.4" y="477" text-anchor="middle" class="tl">300</text>
<rect x="125" y="462" width="1" height="8" fill="#222"/>
<text x="125" y="477" text-anchor="middle" class="tl">400</text>
<rect x="213" y="462" width="1" height="8" fill="#222"/>
<text x="213.45" y="477" text-anchor="middle" class="tl">500</text>
<rect x="301" y="462" width="1" height="8" fill="#222"/>
<text x="301.65" y="477" text-anchor="middle" class="tl">600</text>
<rect x="389" y="462" width="2" height="8" fill="#7a7a7a"/>
<text x="390" y="477" text-anchor="middle" class="tl">700</text>
<rect x="479" y="462" width="1" height="8" fill="#222"/>
<text x="479" y="477" text-anchor="middle" class="tl">800</text>
<rect x="567" y="462" width="1" height="8" fill="#222"/>
<text x="567" y="477" text-anchor="middle" class="tl">900</text>
<rect x="655" y="462" width="1" height="8" fill="#222"/>
<text x="655.1" y="477" text-anchor="middle" class="tl">1000</text>
<rect x="743" y="462" width="2" height="8" fill="#7a7a7a"/>
<text x="743.85" y="477" text-anchor="middle" class="tl">1100</text>
<rect x="32" y="465" width="757" height="1" fill="#222"/>
<rect x="394.5" y="481.5" width="11" height="7.5" fill="none" stroke="#6e6e6e" stroke-width="1"/>
<rect x="400" y="481" width="1" height="8.5" fill="#2a2a2a"/>
<rect x="396.5" y="483.5" width="1.5" height="3.5" fill="#8a8a8a"/><rect x="402.5" y="483.5" width="1.5" height="3.5" fill="#8a8a8a"/>
<path d="M37,465.3 L44.83,445 L52.38,424.5 L60.3,405 L68.6,384.4 L77.18,365 L86.68,343.4 L94.15,325 L103.75,302.2 L112.39,282 L120.44,262.2 L128.18,242 L136.35,221.07 L139.78,212.14 L144.69,200.63 L148.9,192.05 L152.1,186.73 L155.7,180.33 L157.7,176.95 L160.6,172.57 L163.4,169.19 L165.8,165.89 L168,162.84 L172,157.93 L173.6,156.52 L177.7,152.48 L182.9,147.75 L184.5,146.79 L189.8,143.06 L195.4,139.79 L199.9,137.51 L205.1,134.92 L209.9,132.78 L216,130.4 L221,128.91 L226.6,127.27 L230.8,126.31 L234.3,125.45 L237.8,124.76 L242,123.99 L246.2,123.27 L251.8,122.43 L259.5,121.34 L266.5,120.61 L273,120.16 L285,119.46 L307,119.4 L317,120.3 L323,121 L329,122 L335,123 L340,124 L342.5,124.4 L355,126.5 L367.5,129.1 L380,131.5 L392.5,133.75 L405,136 L417.5,137.75 L430,139.45 L438.75,139.45 L440,140.3 L456.25,140.3 L458.9,141.4 L460.6,140.3 L462.8,141.4 L465,140.9 L466.75,140.5 L470.25,140.06 L472.9,138.3 L474.6,138.75 L476.4,136.8 L479,138.3 L480.75,139.2 L482.5,138.75 L484.7,141.2 L486.9,140.5 L488.6,140.9 L491.25,141.2 L493,139.45 L494.75,139.2 L496.5,136.8 L500,137.5 L503,138 L506,137.5 L509,138.5 L513,137.3 L516,139 L520,137.8 L523,138.5 L526,137.5 L529,138.5 L533,137.3 L538,136.8 L542,137.8 L545.5,137.2 L549,138.5 L551,139.5 L564,139.5 L566,140.3 L570,139.9 L571.3,140.3 L573.1,139.25 L575.25,140.3 L577.4,140.1 L579.6,141.7 L582.25,142.75 L587.5,142.75 L590.1,143.6 L593.2,144.9 L596.25,146.1 L598.9,146.4 L601.5,148 L603.7,150.2 L606.3,150.2 L608.5,152.5 L610.25,151.5 L612.9,151.9 L615.5,151.1 L618.1,153.1 L620.75,154.3 L622.5,153.4 L625.1,155.9 L628.2,159.8 L631.25,160.7 L634.75,162 L638.25,163.3 L640,163.5 L644.2,166.5 L647.6,166.5 L652.7,170.5 L654.8,170.7 L657.8,172.8 L659.9,173.7 L662.8,175.3 L666.2,177.6 L669.6,179.8 L672.1,181.3 L673.8,181.3 L677.2,183.2 L681.5,185.5 L685.7,187.2 L688.2,188.6 L691.6,191.2 L695,194.2 L696.3,194.2 L700,197.3 L704.5,201.6 L707.1,202.6 L710.1,203.6 L714.1,205.6 L717.6,208.6 L721.2,210.7 L724.7,213 L728.7,215 L732.3,217.7 L735.8,220 L738.8,221.5 L744.5,225.7 L749.1,228.4 L753.6,231.2 L758.1,234.5 L761.3,235.4 L764.5,237.2 L768.1,240.4 L771.3,241.8 L775.4,243.6 L779,246.3 L783.6,248.8 L788,250.9" fill="none" stroke="#8fcff0" stroke-width="1" stroke-linejoin="round"/>
</svg>
<div class="ylab" style="transform:translate(3px,304px) rotate(-90deg)">Transmittance [%]</div>
<div class="xlab">[nm]</div>
</body></html>
